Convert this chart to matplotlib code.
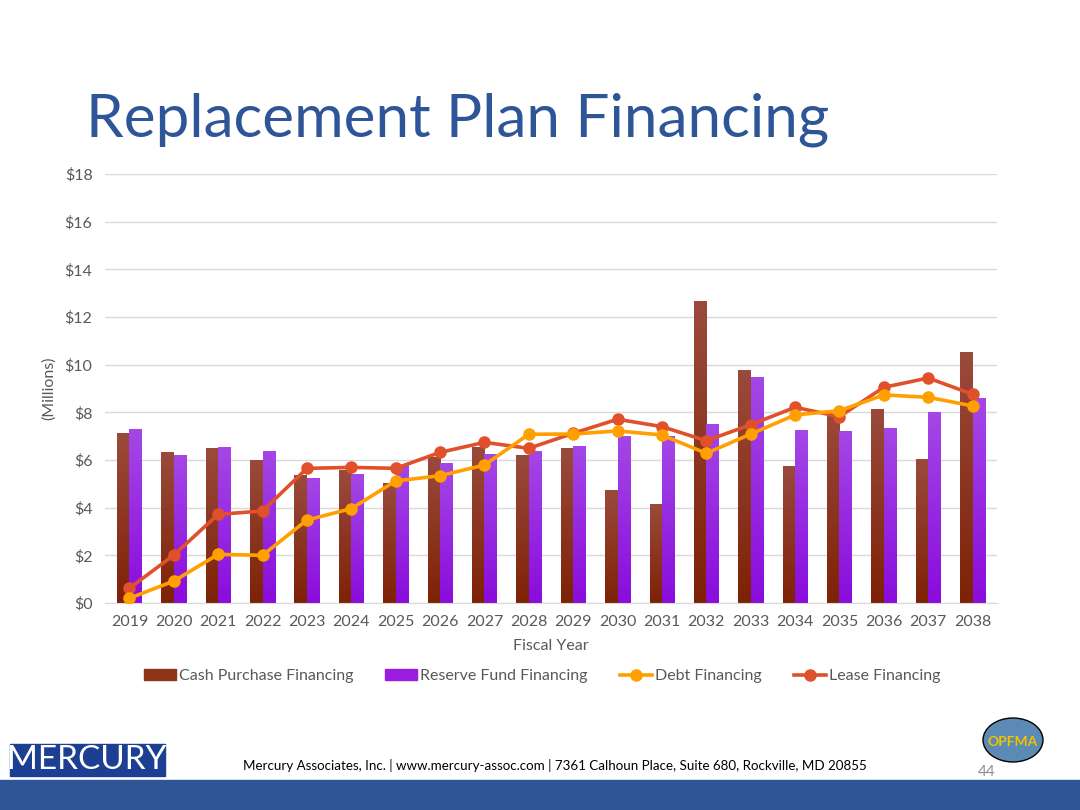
import numpy as np
import matplotlib
matplotlib.use("Agg")
import matplotlib.pyplot as plt
from matplotlib.patches import Rectangle, Ellipse
from matplotlib.lines import Line2D
from matplotlib.colors import LinearSegmentedColormap

plt.rcParams['font.family'] = ['Lato', 'DejaVu Sans']

years = [str(y) for y in range(2019, 2039)]
cash = [7.13, 6.34, 6.50, 6.00, 5.35, 5.58, 5.05, 6.14, 6.56, 6.21,
        6.49, 4.74, 4.15, 12.69, 9.78, 5.76, 7.89, 8.16, 6.04, 10.52]
reserve = [7.30, 6.20, 6.53, 6.38, 5.25, 5.41, 5.80, 5.87, 6.25, 6.38,
           6.59, 7.00, 7.00, 7.51, 9.47, 7.25, 7.22, 7.34, 8.00, 8.60]
debt = [0.20, 0.92, 2.04, 2.00, 3.48, 3.96, 5.12, 5.34, 5.79, 7.08,
        7.09, 7.22, 7.05, 6.28, 7.09, 7.89, 8.07, 8.73, 8.63, 8.27]
lease = [0.62, 2.01, 3.72, 3.86, 5.65, 5.69, 5.65, 6.32, 6.74, 6.49,
         7.12, 7.71, 7.40, 6.81, 7.48, 8.21, 7.82, 9.05, 9.44, 8.76]
y_ticks = [0, 2, 4, 6, 8, 10, 12, 14, 16, 18]

fig = plt.figure(figsize=(10.8, 8.1), dpi=100)
fig.patch.set_facecolor('white')

# title
fig.text(86 / 1080, 1 - 120 / 810, 'Replacement Plan Financing', fontsize=43.4,
         color='#2E5597', va='center', ha='left')

ax = fig.add_axes([105 / 1080, 1 - 603 / 810, (997 - 105) / 1080, (603 - 174) / 810])
x = np.arange(len(years))
w = 0.28

cash_cmap = LinearSegmentedColormap.from_list('c', ['#7E2206', '#9A4A3C'])
res_cmap = LinearSegmentedColormap.from_list('r', ['#8A0CDC', '#A447E6'])
grad = np.linspace(0, 1, 100).reshape(-1, 1)

bars1 = ax.bar(x - w / 2, cash, w, color='#8E3417', zorder=2)
bars2 = ax.bar(x + w / 2, reserve, w, color='#9B1EE0', zorder=2)
for bars, cm in [(bars1, cash_cmap), (bars2, res_cmap)]:
    for b in bars:
        x0, h = b.get_x(), b.get_height()
        im = ax.imshow(grad, cmap=cm, aspect='auto', origin='lower',
                       extent=[x0, x0 + b.get_width(), 0, h], zorder=2.1)
        im.set_clip_path(b)

ax.plot(x, debt, color='#FFA000', lw=2.6, marker='o', ms=8, zorder=4)
ax.plot(x, lease, color='#E0512B', lw=2.6, marker='o', ms=8, zorder=3)

ax.set_xlim(-0.55, len(years) - 0.45)
ax.set_ylim(0, 18)
ax.set_yticks(y_ticks)
ax.set_yticklabels(['$' + str(t) for t in y_ticks])
ax.set_xticks(x)
ax.set_xticklabels(years)
ax.tick_params(axis='both', length=0, labelsize=11.5, colors='#595959', pad=9)
ax.grid(axis='y', color='#D9D9D9', lw=1, zorder=0)
for s in ['top', 'right', 'left']:
    ax.spines[s].set_visible(False)
ax.spines['bottom'].set_color('#D9D9D9')
ax.set_xlabel('Fiscal Year', fontsize=11.5, color='#595959', labelpad=7)
ax.set_ylabel('(Millions)', fontsize=11.5, color='#595959', labelpad=6)

handles = [Rectangle((0, 0), 1, 1, color='#8E3417'),
           Rectangle((0, 0), 1, 1, color='#9B1EE0'),
           Line2D([], [], color='#FFA000', lw=2.6, marker='o', ms=8),
           Line2D([], [], color='#E0512B', lw=2.6, marker='o', ms=8)]
labels = ['Cash Purchase Financing', 'Reserve Fund Financing', 'Debt Financing', 'Lease Financing']
fig.legend(handles, labels, loc='center', bbox_to_anchor=(542 / 1080, 1 - 676 / 810), ncol=4,
           frameon=False, fontsize=11.5, labelcolor='#595959', handlelength=2.0,
           handletextpad=0.2, columnspacing=2.0)

# footer
fig.patches.append(Rectangle((0, 0), 1, 30 / 810, transform=fig.transFigure,
                             color='#2F5597', zorder=0))
fig.patches.append(Rectangle((10 / 1080, 1 - 776 / 810), 155 / 1080, 32 / 810,
                             transform=fig.transFigure, color='#1C3F94', zorder=0))
fig.text(87 / 1080, 1 - 760 / 810, 'MERCURY', fontsize=24, color='white',
         va='center', ha='center')
fig.text(243 / 1080, 1 - 766 / 810,
         'Mercury Associates, Inc. | www.mercury-assoc.com | 7361 Calhoun Place, Suite 680, Rockville, MD 20855',
         fontsize=9.6, color='black', va='center', ha='left')
fig.text(987 / 1080, 1 - 772 / 810, '44', fontsize=11, color='#8C8C8C', va='center', ha='center')
fig.patches.append(Ellipse((1013 / 1080, 1 - 740 / 810), 60 / 1080, 44 / 810,
                           transform=fig.transFigure, facecolor='#5B8BB5', edgecolor='black', lw=1))
fig.text(1013 / 1080, 1 - 742 / 810, 'OPFMA', fontsize=10, fontweight='bold',
         color='#F2C200', va='center', ha='center')

fig.savefig('out.png', dpi=100)
